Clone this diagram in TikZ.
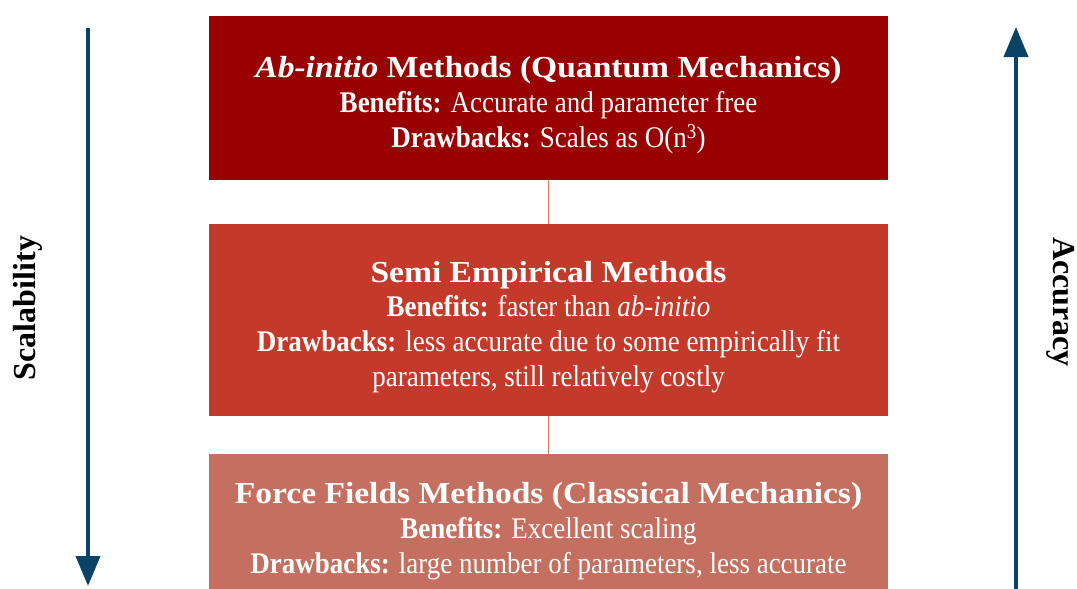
\documentclass[tikz,border=0pt]{standalone}
\usepackage{fontspec}
\setmainfont{Liberation Serif}
\newfontfamily\lvltitlefont[FakeStretch=1.1]{Liberation Serif}
\newfontfamily\lvlbodyfont[FakeStretch=0.9]{Liberation Serif}
\usetikzlibrary{arrows.meta}
\definecolor{boxA}{HTML}{990000}
\definecolor{boxB}{HTML}{C3392A}
\definecolor{boxC}{HTML}{C46F60}
\definecolor{linkc}{HTML}{E0705F}
\definecolor{arrc}{HTML}{0B4266}
\newcommand\lvltitle{\lvltitlefont\bfseries\fontsize{30.5}{34.7}\selectfont}
\tikzset{
  levelbox/.style={draw=none, rectangle, minimum width=679pt, inner sep=0pt, anchor=north west},
  boxtext/.style={text=white, align=center, font=\lvlbodyfont\fontsize{30}{34.7}\selectfont, inner sep=0pt},
  link/.style={draw=linkc, line width=1.5pt},
  bigarrow/.style={draw=arrc, line width=4pt, -{Triangle[width=24pt,length=30pt]}},
  sidelabel/.style={font=\bfseries\fontsize{32}{36}\selectfont, inner sep=0pt}
}
\begin{document}
\begin{tikzpicture}[x=1pt,y=-1pt]
\useasboundingbox (0,0) rectangle (1077,589);
\node[levelbox, fill=boxA, minimum height=164pt] (b1) at (209,16) {};
\node[levelbox, fill=boxB, minimum height=192pt] (b2) at (209,224) {};
\node[levelbox, fill=boxC, minimum height=135pt] (b3) at (209,454) {};
\draw[link] (b1.south) -- (b2.north);
\draw[link] (b2.south) -- (b3.north);
\node[boxtext] (t1) at (548.5,105) {{\lvltitle \textit{Ab-initio} Methods (Quantum Mechanics)}\\
  \textbf{Benefits:} Accurate and parameter free\\
  \textbf{Drawbacks:} Scales as O(n\textsuperscript{3})};
\node[boxtext] (t2) at (548.5,327) {{\lvltitle Semi Empirical Methods}\\
  \textbf{Benefits:} faster than \textit{ab-initio}\\
  \textbf{Drawbacks:} less accurate due to some empirically fit\\
  parameters, still relatively costly};
\node[boxtext] (t3) at (548.5,531) {{\lvltitle Force Fields Methods (Classical Mechanics)}\\
  \textbf{Benefits:} Excellent scaling\\
  \textbf{Drawbacks:} large number of parameters, less accurate};
\coordinate (la) at (88,28);
\coordinate (lb) at (88,586);
\coordinate (ra) at (1016,590);
\coordinate (rb) at (1016,27);
\draw[bigarrow] (la) -- (lb);
\draw[bigarrow] (ra) -- (rb);
\node[sidelabel, rotate=90] (scal) at (28,308) {Scalability};
\node[sidelabel, rotate=-90] (acc) at (1061,302) {Accuracy};
\end{tikzpicture}
\end{document}
